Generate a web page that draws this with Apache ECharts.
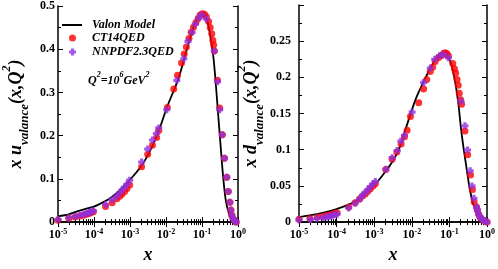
<!DOCTYPE html>
<html><head><meta charset="utf-8">
<script src="https://cdn.jsdelivr.net/npm/echarts@6/dist/echarts.min.js"></script>
<style>html,body{margin:0;padding:0;background:#fff}#c{width:498px;height:269px}</style>
</head><body><div id="c"></div>
<script>
// ---------- data ----------
const xTickValues = [1e-5, 1e-4, 1e-3, 1e-2, 1e-1, 1];
const uYTicks = [0, 0.1, 0.2, 0.3, 0.4, 0.5];
const dYTicks = [0, 0.05, 0.1, 0.15, 0.2, 0.25, 0.3];

const valonU = [[1e-5,0.0135],[2e-5,0.018],[3e-5,0.023],[5e-5,0.029],[1e-4,0.036],[2e-4,0.048],[3e-4,0.057],[5e-4,0.072],[1e-3,0.098],[2e-3,0.128],[3e-3,0.152],[5e-3,0.19],[7e-3,0.222],[0.0109,0.268],[0.0222,0.332],[0.0368,0.396],[0.0553,0.446],[0.075,0.471],[0.098,0.482],[0.115,0.48],[0.138,0.468],[0.169,0.432],[0.207,0.382],[0.239,0.325],[0.27,0.268],[0.325,0.182],[0.382,0.11],[0.468,0.046],[0.634,0.01],[0.87,0.0015],[1,0]];
const ct14U = [[1e-5,0.004],[2e-5,0.009],[3e-5,0.012],[4.1e-5,0.014],[5.2e-5,0.016],[6.2e-5,0.018],[7.3e-5,0.02],[8.3e-5,0.022],[9.6e-5,0.024],[2.1e-4,0.036],[3.2e-4,0.045],[4.3e-4,0.054],[5.2e-4,0.06],[6e-4,0.065],[7.1e-4,0.071],[8.3e-4,0.078],[9.8e-4,0.086],[2.1e-3,0.128],[3.1e-3,0.157],[4.2e-3,0.178],[5.5e-3,0.196],[6.3e-3,0.212],[0.0109,0.265],[0.0164,0.308],[0.0209,0.34],[0.027,0.368],[0.032,0.389],[0.0368,0.405],[0.0435,0.425],[0.05,0.439],[0.058,0.451],[0.068,0.462],[0.078,0.471],[0.0885,0.479],[0.102,0.482],[0.117,0.481],[0.132,0.475],[0.153,0.464],[0.169,0.45],[0.187,0.436],[0.2,0.421],[0.211,0.41],[0.22,0.396],[0.27,0.328],[0.31,0.264],[0.366,0.202],[0.421,0.148],[0.488,0.104],[0.537,0.071],[0.596,0.046],[0.634,0.028],[0.673,0.016],[0.73,0.008],[0.81,0.003],[0.89,0.0005]];
const nnpdfU = [[1e-5,0.006],[2e-5,0.01],[3e-5,0.013],[4.1e-5,0.016],[5.2e-5,0.018],[6.2e-5,0.02],[7.3e-5,0.022],[8.3e-5,0.024],[9.6e-5,0.026],[2.1e-4,0.041],[3.2e-4,0.052],[4.3e-4,0.06],[5.2e-4,0.068],[6e-4,0.074],[7.1e-4,0.081],[8.3e-4,0.088],[9.8e-4,0.097],[2.1e-3,0.139],[3.1e-3,0.169],[4.2e-3,0.19],[5.4e-3,0.205],[6.3e-3,0.218],[0.0105,0.26],[0.02,0.328],[0.0314,0.378],[0.0407,0.418],[0.053,0.439],[0.065,0.458],[0.08,0.472],[0.097,0.48],[0.13,0.47],[0.22,0.396],[0.27,0.325],[0.31,0.26],[0.366,0.202],[0.421,0.148],[0.488,0.104],[0.537,0.071],[0.596,0.046],[0.634,0.028],[0.673,0.016],[0.73,0.008],[0.81,0.003],[0.89,0.0005]];

const valonD = [[1e-5,0.007],[3e-5,0.011],[1e-4,0.018],[3e-4,0.028],[1e-3,0.051],[2e-3,0.07],[3.4e-3,0.0876],[5e-3,0.106],[6.8e-3,0.128],[0.0125,0.169],[0.023,0.199],[0.038,0.221],[0.051,0.228],[0.0695,0.2316],[0.094,0.227],[0.115,0.216],[0.141,0.195],[0.172,0.165],[0.203,0.13],[0.234,0.105],[0.285,0.075],[0.35,0.045],[0.455,0.021],[0.64,0.006],[0.94,0.0005],[1,0]];
const ct14D = [[1e-5,0.004],[1.95e-5,0.005],[3.1e-5,0.007],[4.4e-5,0.0082],[5.4e-5,0.009],[6.6e-5,0.0099],[7.6e-5,0.0107],[8.9e-5,0.012],[1.03e-4,0.0129],[2.1e-4,0.021],[3.1e-4,0.0267],[4.1e-4,0.0318],[4.9e-4,0.036],[5.8e-4,0.039],[6.8e-4,0.0425],[7.9e-4,0.046],[9.3e-4,0.0499],[1.07e-3,0.053],[2.04e-3,0.0726],[3e-3,0.087],[4e-3,0.097],[5.2e-3,0.108],[6.4e-3,0.118],[7.5e-3,0.127],[9.2e-3,0.146],[0.0153,0.165],[0.0207,0.184],[0.025,0.197],[0.031,0.208],[0.036,0.214],[0.042,0.222],[0.051,0.227],[0.0605,0.23],[0.0695,0.233],[0.077,0.234],[0.085,0.233],[0.094,0.23],[0.123,0.219],[0.136,0.212],[0.147,0.206],[0.16,0.197],[0.172,0.189],[0.183,0.178],[0.199,0.169],[0.211,0.163],[0.259,0.126],[0.306,0.093],[0.365,0.065],[0.41,0.045],[0.455,0.028],[0.525,0.021],[0.555,0.0168],[0.6,0.011],[0.655,0.0068],[0.73,0.004],[0.86,0.0017],[1,0]];
const nnpdfD = [[1e-5,0.003],[2e-5,0.0035],[3e-5,0.005],[4.4e-5,0.0062],[5.4e-5,0.007],[6.6e-5,0.008],[7.6e-5,0.0088],[8.9e-5,0.01],[1.03e-4,0.011],[2.1e-4,0.0195],[3.1e-4,0.026],[4.1e-4,0.032],[4.9e-4,0.037],[5.8e-4,0.041],[6.8e-4,0.045],[7.9e-4,0.049],[9.3e-4,0.053],[1.07e-3,0.056],[2.04e-3,0.073],[3e-3,0.089],[4.1e-3,0.099],[5.1e-3,0.112],[6.4e-3,0.12],[0.0102,0.152],[0.0207,0.193],[0.031,0.213],[0.0407,0.225],[0.055,0.23],[0.07,0.232],[0.094,0.227],[0.203,0.167],[0.259,0.133],[0.303,0.0996],[0.357,0.071],[0.4,0.05],[0.45,0.033],[0.525,0.021],[0.555,0.0168],[0.6,0.011],[0.655,0.0068],[0.73,0.004],[0.86,0.0017],[1,0]];

// ---------- styling ----------
const FONT = '"Liberation Serif","Times New Roman",serif';
const RED = '#ff0000', PURPLE = '#9030e0';
const PLUS = 'path://M2.2,0H5.8V2.2H8V5.8H5.8V8H2.2V5.8H0V2.2H2.2Z';

const tickLabelStyle = {fontFamily: FONT, fontWeight: 'bold', fontSize: 12, color: '#000'};
function expOf(v) { return (v > 0 && v <= 1.0001) ? Math.round(Math.log10(v)) : Math.round(v); }

function xAxes(grid) {
  const common = {type: 'log', logBase: 10, min: xTickValues[0], max: xTickValues[xTickValues.length - 1],
    gridIndex: grid, splitLine: {show: false},
    axisLine: {show: true, lineStyle: {color: '#000', width: 1.5}},
    axisTick: {show: true, inside: true, length: 5, lineStyle: {color: '#000'}},
    minorTick: {show: true, splitNumber: 9, length: 3, lineStyle: {color: '#000'}}};
  return [
    Object.assign({}, common, {position: 'bottom', name: 'x', nameLocation: 'middle', nameGap: 20,
      nameTextStyle: {fontFamily: FONT, fontWeight: 'bold', fontStyle: 'italic', fontSize: 18, color: '#000'},
      axisLabel: {show: true, margin: 6, formatter: v => '{b|10}{s|' + expOf(v) + '}',
        rich: {b: Object.assign({}, tickLabelStyle, {lineHeight: 14, verticalAlign: 'middle'}),
               s: Object.assign({}, tickLabelStyle, {fontSize: 8, lineHeight: 8, verticalAlign: 'top'})}}}),
    Object.assign({}, common, {position: 'top', axisLabel: {show: false}})
  ];
}

function yAxes(grid, ticks, nameText, margin, nameGap) {
  const max = ticks[ticks.length - 1];
  const interval = ticks[1] - ticks[0];
  const common = {type: 'value', min: 0, max: max, interval: interval, gridIndex: grid, splitLine: {show: false},
    axisLine: {show: true, lineStyle: {color: '#000', width: 1.5}},
    axisTick: {show: true, inside: true, length: 5, lineStyle: {color: '#000'}},
    minorTick: {show: true, splitNumber: 2, length: 3, lineStyle: {color: '#000'}}};
  const m = {fontFamily: FONT, fontWeight: 'bold', fontStyle: 'italic', fontSize: 18, color: '#000'};
  return [
    Object.assign({}, common, {position: 'left', name: nameText, nameLocation: 'middle', nameGap: nameGap,
      nameTextStyle: Object.assign({}, m, {rich: {
        m: Object.assign({}, m, {lineHeight: 30, verticalAlign: 'middle'}),
        s: Object.assign({}, m, {fontSize: 13, lineHeight: 13, verticalAlign: 'bottom'}),
        p: Object.assign({}, m, {fontSize: 12, lineHeight: 12, verticalAlign: 'top'})}}),
      axisLabel: Object.assign({}, tickLabelStyle, {margin: margin, showMaxLabel: max !== 0.3,
        formatter: v => String(Math.round(v * 1000) / 1000)})}),
    Object.assign({}, common, {position: 'right', axisLabel: {show: false}})
  ];
}

const chart = echarts.init(document.getElementById('c'), null, {renderer: 'canvas'});
const legendText = {fontFamily: FONT, fontWeight: 'bold', fontStyle: 'italic', fontSize: 12, color: '#000'};
chart.setOption({
  animation: false,
  backgroundColor: '#fff',
  grid: [{left: 49, top: 5, width: 189, height: 233}, {left: 299, top: 5, width: 190, height: 233}],
  xAxis: xAxes(0).concat(xAxes(1)),
  yAxis: yAxes(0, uYTicks, '{m|x u}{s|valance}{m|(x,Q}{p|2}{m|)}', 3, 27)
    .concat(yAxes(1, dYTicks, '{m|x d}{s|valance}{m|(x,Q}{p|2}{m|)}', 8, 14)),
  legend: [
    {left: 62, top: 19, padding: 0, selectedMode: false, itemWidth: 20, itemHeight: 2, icon: 'rect',
     data: ['Valon Model'], textStyle: Object.assign({}, legendText, {padding: [0, 0, 0, 5]})},
    {left: 69, top: 32, padding: 0, selectedMode: false, itemWidth: 7, itemHeight: 7, icon: 'circle',
     data: ['CT14QED'], textStyle: Object.assign({}, legendText, {padding: [0, 0, 0, 11]})},
    {left: 69, top: 46, padding: 0, selectedMode: false, itemWidth: 7, itemHeight: 7, icon: PLUS,
     data: ['NNPDF2.3QED'], textStyle: Object.assign({}, legendText, {padding: [0, 0, 0, 11]})}
  ],
  graphic: [{type: 'text', left: 88, top: 71, style: {
    text: '{m|Q}{p|2}{m|=10}{p|6}{m|GeV}{p|2}',
    rich: {m: Object.assign({}, legendText, {fontSize: 12, lineHeight: 16, verticalAlign: 'bottom'}),
           p: Object.assign({}, legendText, {fontSize: 8, lineHeight: 16, verticalAlign: 'top'})}}}],
  series: [
    {name: 'Valon Model', type: 'line', xAxisIndex: 0, yAxisIndex: 0, data: valonU, showSymbol: false, smooth: 0.3,
     color: '#000', lineStyle: {color: '#000', width: 1.8}, z: 2},
    {name: 'CT14QED', type: 'scatter', xAxisIndex: 0, yAxisIndex: 0, data: ct14U, symbol: 'circle', symbolSize: 7,
     itemStyle: {color: RED}, z: 3},
    {name: 'NNPDF2.3QED', type: 'scatter', xAxisIndex: 0, yAxisIndex: 0, data: nnpdfU, symbol: PLUS, symbolSize: 7,
     itemStyle: {color: PURPLE}, z: 4},
    {name: 'Valon Model', type: 'line', xAxisIndex: 2, yAxisIndex: 2, data: valonD, showSymbol: false, smooth: 0.3,
     color: '#000', lineStyle: {color: '#000', width: 1.8}, z: 2},
    {name: 'CT14QED', type: 'scatter', xAxisIndex: 2, yAxisIndex: 2, data: ct14D, symbol: 'circle', symbolSize: 7,
     itemStyle: {color: RED}, z: 3},
    {name: 'NNPDF2.3QED', type: 'scatter', xAxisIndex: 2, yAxisIndex: 2, data: nnpdfD, symbol: PLUS, symbolSize: 7,
     itemStyle: {color: PURPLE}, z: 4}
  ]
});
</script></body></html>
